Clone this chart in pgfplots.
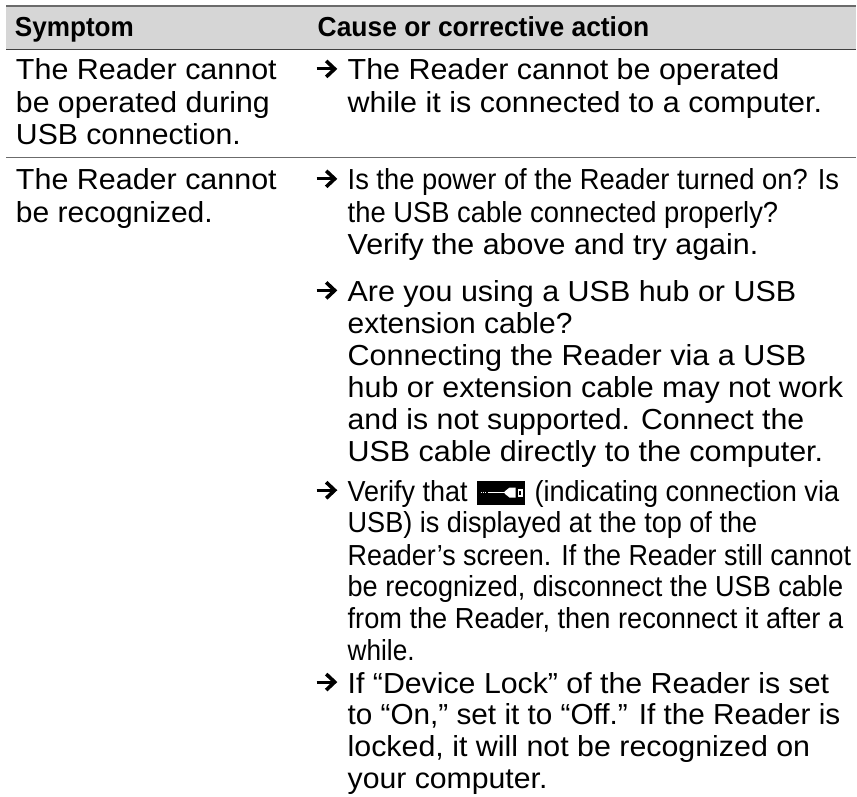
\documentclass[border=0pt]{standalone}
\usepackage{pgfplots}
\pgfplotsset{compat=1.18}
\usepackage{fontspec}
\usepackage{graphicx}
\setmainfont{Liberation Sans}
\definecolor{hdr}{gray}{0.84}
\definecolor{rulec}{gray}{0.42}
% x, baseline (px from top), width in px, text
\newcommand{\T}[4]{\node[anchor=base west,inner sep=0pt,outer sep=0pt] at (axis cs:#1,797-#2) {\resizebox{#3pt}{\height}{\fontsize{29}{29}\selectfont #4}};}
\newcommand{\B}[4]{\node[anchor=base west,inner sep=0pt,outer sep=0pt] at (axis cs:#1,797-#2) {\resizebox{#3pt}{\height}{\fontsize{27.5}{27.5}\selectfont\bfseries #4}};}
\newcommand{\A}[1]{%
 \draw[black,line width=3pt] (axis cs:317,797-#1+11) -- (axis cs:333,797-#1+11);
 \draw[black,line width=3.6pt,miter limit=10] (axis cs:326.5,797-#1+19) -- (axis cs:335,797-#1+11) -- (axis cs:326.5,797-#1+3);}
\begin{document}
\begin{tikzpicture}
\begin{axis}[scale only axis,width=857pt,height=797pt,xmin=0,xmax=857,ymin=0,ymax=797,hide axis,clip=false]
\path (axis cs:0,0) rectangle (axis cs:857,797);
% header band
\addplot[fill=hdr,draw=none] coordinates {(6.5,791) (857,791) (857,747.5) (6.5,747.5)} --cycle;
\addplot[rulec,line width=1.3pt] coordinates {(6.5,791) (857,791)};
\addplot[black!75,line width=1.1pt] coordinates {(6.5,747.5) (857,747.5)};
\addplot[rulec,line width=1.6pt] coordinates {(6.5,639.3) (857,639.3)};
% icon
\addplot[fill=black,draw=none] coordinates {(477.3,316) (525,316) (525,292) (477.3,292)} --cycle;
\addplot[white,line width=0.4pt,dotted] coordinates {(481,304) (488,304)};
\addplot[white,line width=1pt] coordinates {(488,304) (505,304)};
\addplot[fill=white,draw=none] coordinates {(505,305) (510,309) (516,309) (516,299) (510,299) (505,303)} --cycle;
\addplot[fill=white,draw=none] coordinates {(518,308) (523,308) (523,300) (518,300)} --cycle;
\addplot[fill=black,draw=none] coordinates {(519.5,306) (521.5,306) (521.5,302) (519.5,302)} --cycle;
% header
\B{15}{37}{119}{Symptom}
\B{318}{37}{332}{Cause or corrective action}
% first column
\T{16}{80}{261}{The Reader cannot}
\T{16}{112.7}{254}{be operated during}
\T{16}{144.5}{225}{USB connection.}
\T{16}{190}{261}{The Reader cannot}
\T{16}{222.5}{197}{be recognized.}
% second column
\A{80}
\T{348}{80}{432}{The Reader cannot be operated}
\T{348}{112.7}{475}{while it is connected to a computer.}
\A{190}
\T{348}{190}{492}{Is the power of the Reader turned on? Is}
\T{348}{222.7}{431}{the USB cable connected properly?}
\T{348}{255}{411}{Verify the above and try again.}
\A{301.7}
\T{348}{301.7}{449}{Are you using a USB hub or USB}
\T{348}{333.5}{225}{extension cable?}
\T{348}{365.7}{459}{Connecting the Reader via a USB}
\T{348}{397.5}{496}{hub or extension cable may not work}
\T{348}{429.5}{457}{and is not supported. Connect the}
\T{348}{461.7}{476}{USB cable directly to the computer.}
\A{501.7}
\T{348}{501.7}{120}{Verify that}
\T{535}{501.7}{305}{(indicating connection via}
\T{348}{533.5}{410}{USB) is displayed at the top of the}
\T{348}{565.7}{504}{Reader’s screen. If the Reader still cannot}
\T{348}{597.5}{496}{be recognized, disconnect the USB cable}
\T{348}{629.5}{496}{from the Reader, then reconnect it after a}
\T{348}{661.5}{67}{while.}
\A{693.7}
\T{348}{693.7}{482}{If “Device Lock” of the Reader is set}
\T{348}{725.5}{493}{to “On,” set it to “Off.” If the Reader is}
\T{348}{757.7}{463}{locked, it will not be recognized on}
\T{348}{789.7}{200}{your computer.}
\end{axis}
\end{tikzpicture}
\end{document}
